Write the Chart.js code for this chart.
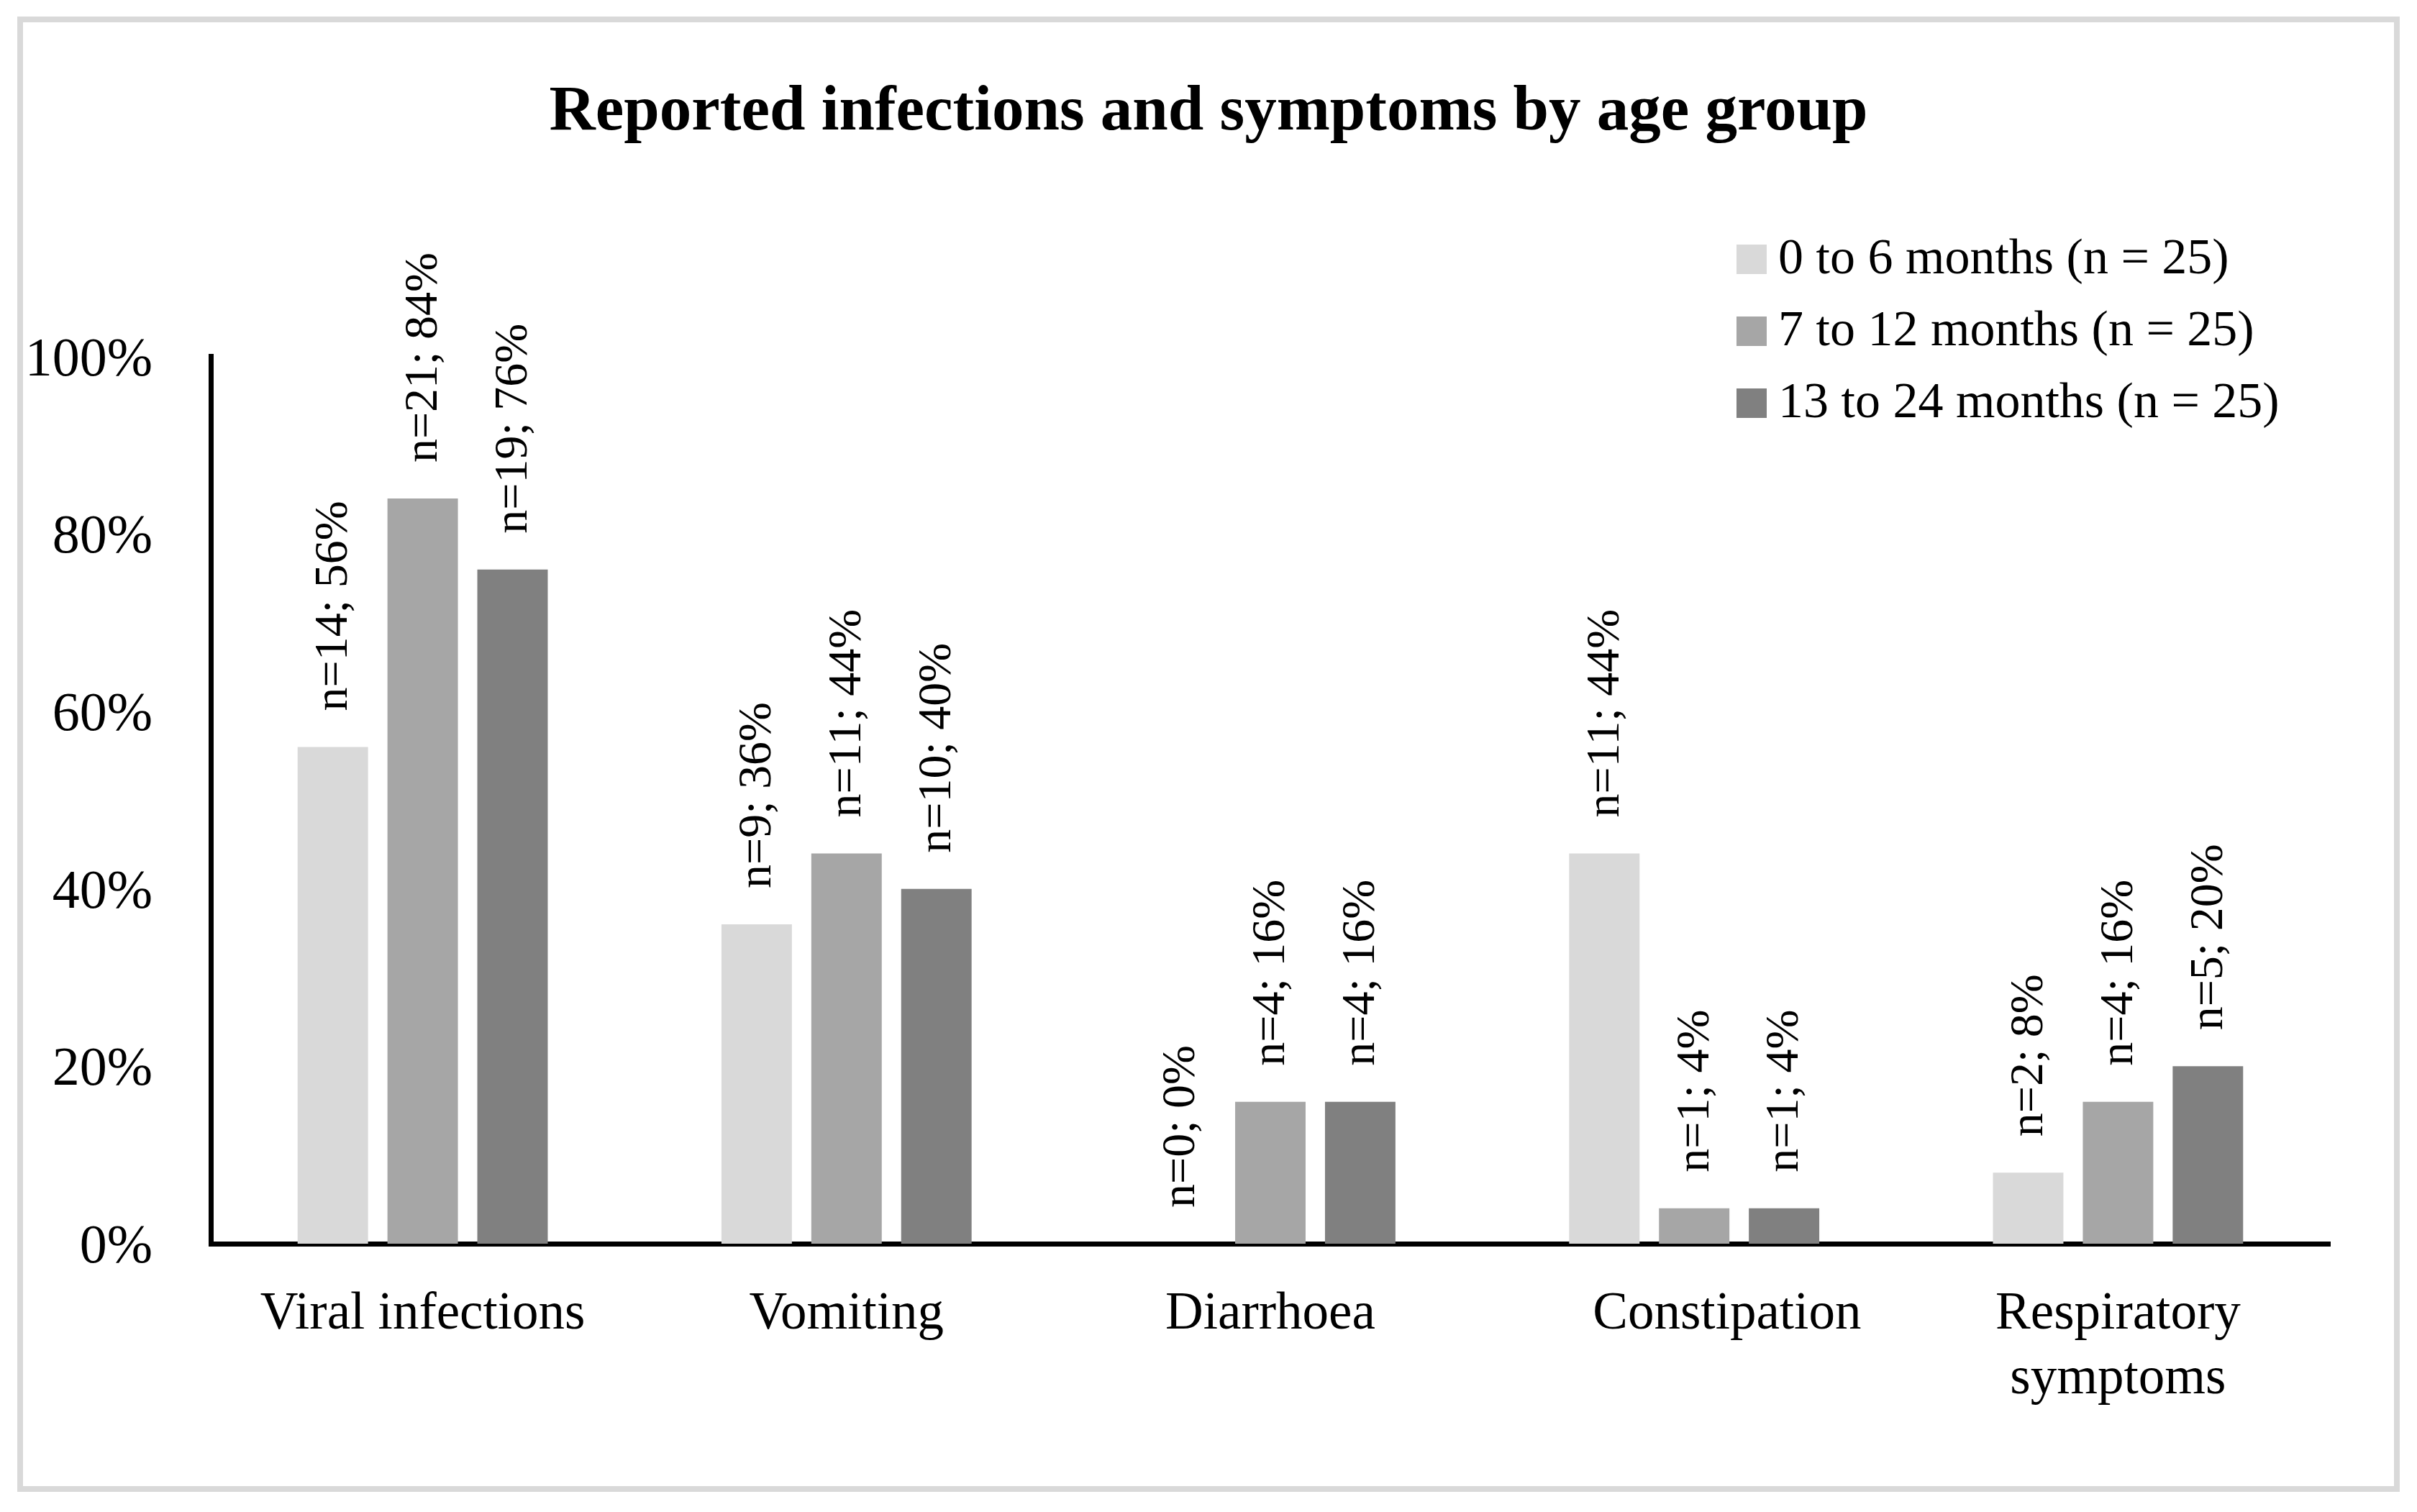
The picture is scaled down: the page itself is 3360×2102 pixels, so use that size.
<!DOCTYPE html>
<html>
<head>
<meta charset="utf-8">
<script src="https://cdn.jsdelivr.net/npm/chart.js@4.4.1/dist/chart.umd.min.js"></script>
<style>
  html, body { margin: 0; padding: 0; background: #ffffff; overflow: hidden; }
  canvas { display: block; }
</style>
</head>
<body>
<canvas id="c" width="3360" height="2102" style="width:3360px;height:2102px"></canvas>
<script>
// ---- Data ----
const categories = ['Viral infections', 'Vomiting', 'Diarrhoea', '\u00a0\u00a0\u00a0\u00a0\u00a0Constipation', ['Respiratory', 'symptoms']];
const seriesNames = ['0 to 6 months (n = 25)', '7 to 12 months (n = 25)', '13 to 24 months (n = 25)'];
const pct0to6 = [56, 36, 0, 44, 8];
const pct7to12 = [84, 44, 16, 4, 16];
const pct13to24 = [76, 40, 16, 4, 20];
const n0to6 = [14, 9, 0, 11, 2];
const n7to12 = [21, 11, 4, 1, 4];
const n13to24 = [19, 10, 4, 1, 5];
const yTicks = [0, 20, 40, 60, 80, 100];

const colors = ['#d9d9d9', '#a6a6a6', '#808080'];
const SERIF = '"Liberation Serif", "DejaVu Serif", serif';

const frame = {
  id: 'frame',
  beforeDraw(chart) {
    const ctx = chart.ctx;
    ctx.save();
    ctx.fillStyle = '#ffffff';
    ctx.fillRect(0, 0, chart.width, chart.height);
    ctx.strokeStyle = '#d9d9d9';
    ctx.lineWidth = 8;
    ctx.strokeRect(28, 27, 3304, 2043);
    ctx.restore();
  }
};

const barLabels = {
  id: 'barLabels',
  afterDatasetsDraw(chart) {
    const ctx = chart.ctx;
    const counts = [n0to6, n7to12, n13to24];
    ctx.save();
    ctx.font = '66px ' + SERIF;
    ctx.fillStyle = '#000';
    ctx.textAlign = 'left';
    ctx.textBaseline = 'middle';
    chart.data.datasets.forEach((ds, di) => {
      const meta = chart.getDatasetMeta(di);
      meta.data.forEach((bar, i) => {
        const txt = 'n=' + counts[di][i] + '; ' + ds.data[i] + '%';
        ctx.save();
        ctx.translate(bar.x + 2, bar.y - 50);
        ctx.rotate(-Math.PI / 2);
        ctx.fillText(txt, 0, 0);
        ctx.restore();
      });
    });
    ctx.restore();
  }
};

const customLegend = {
  id: 'customLegend',
  afterDraw(chart) {
    const ctx = chart.ctx;
    ctx.save();
    ctx.font = '70px ' + SERIF;
    ctx.textAlign = 'left';
    ctx.textBaseline = 'alphabetic';
    chart.data.datasets.forEach((ds, i) => {
      const y0 = 340 + i * 100;
      ctx.fillStyle = ds.backgroundColor;
      ctx.fillRect(2414, y0, 42, 41);
      ctx.fillStyle = '#000';
      ctx.fillText(ds.label, 2472, y0 + 40);
    });
    ctx.restore();
  }
};

Chart.defaults.color = '#000';
Chart.defaults.font.family = SERIF;

new Chart(document.getElementById('c'), {
  type: 'bar',
  data: {
    labels: categories,
    datasets: [
      { label: seriesNames[0], data: pct0to6, backgroundColor: colors[0] },
      { label: seriesNames[1], data: pct7to12, backgroundColor: colors[1] },
      { label: seriesNames[2], data: pct13to24, backgroundColor: colors[2] }
    ]
  },
  options: {
    responsive: false,
    devicePixelRatio: 1,
    animation: false,
    layout: { padding: { left: 0, right: 0, top: 0, bottom: 0 } },
    datasets: { bar: { categoryPercentage: 0.636, barPercentage: 0.784, borderWidth: 0 } },
    plugins: {
      legend: { display: false },
      tooltip: { enabled: false },
      title: {
        display: true,
        text: 'Reported infections and symptoms by age group',
        color: '#000',
        font: { family: SERIF, size: 89, weight: 'bold', lineHeight: 1.2 },
        padding: { top: 104, bottom: 285 }
      }
    },
    scales: {
      x: {
        grid: { display: false, drawTicks: false },
        border: { display: true, color: '#000', width: 7 },
        ticks: {
          color: '#000',
          font: { family: SERIF, size: 73, lineHeight: 1.23 },
          padding: 54,
          maxRotation: 0,
          minRotation: 0,
          autoSkip: false
        },
        afterFit(scale) { scale.height = 2102 - 1729; }
      },
      y: {
        min: 0,
        max: 100,
        afterBuildTicks(scale) { scale.ticks = yTicks.map(v => ({ value: v })); },
        grid: { display: false, drawTicks: false },
        border: { display: true, color: '#000', width: 7 },
        ticks: {
          color: '#000',
          font: { family: SERIF, size: 76 },
          padding: 81,
          labelOffset: 6,
          callback: (v) => v + '%'
        },
        afterFit(scale) { scale.width = 293; }
      },
      yRight: {
        position: 'right',
        display: true,
        min: 0,
        max: 100,
        grid: { display: false, drawTicks: false },
        border: { display: false },
        ticks: { display: false },
        afterFit(scale) { scale.width = 121; }
      }
    }
  },
  plugins: [frame, barLabels, customLegend]
});
</script>
</body>
</html>
